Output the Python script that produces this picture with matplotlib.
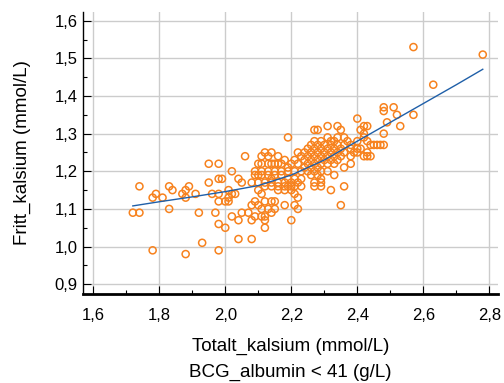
import matplotlib
matplotlib.use("Agg")
import matplotlib.pyplot as plt
from matplotlib.ticker import MultipleLocator, FuncFormatter

plt.rcParams['font.family'] = ['Liberation Sans', 'DejaVu Sans']

# Scatter data (Totalt_kalsium, Fritt_kalsium)
total_ca = [
    2.40,
    2.49,
    2.31, 2.34, 2.42, 2.43, 2.53,
    2.27, 2.28, 2.35, 2.41,
    2.42, 2.48,
    2.19, 2.31, 2.34, 2.36, 2.42,
    2.27, 2.29, 2.32, 2.33, 2.37, 2.40, 2.43,
    2.26, 2.28, 2.30, 2.32, 2.34, 2.36, 2.38, 2.44, 2.45, 2.46, 2.47, 2.48,
    2.25, 2.27, 2.29, 2.31, 2.33, 2.35, 2.38, 2.40, 2.41,
    2.12, 2.14, 2.22, 2.24, 2.26, 2.28, 2.30, 2.32, 2.34, 2.36, 2.39, 2.40, 2.43,
    2.06, 2.11, 2.13, 2.16, 2.23, 2.25, 2.27, 2.29, 2.31, 2.33, 2.35, 2.38, 2.42, 2.43, 2.44,
    2.18, 2.21, 2.24, 2.26, 2.28, 2.30, 2.32, 2.34,
    1.95, 1.98, 2.10, 2.11, 2.13, 2.14, 2.15, 2.16, 2.17, 2.20, 2.22, 2.25, 2.27, 2.29, 2.31, 2.33, 2.38,
    2.19, 2.24, 2.26, 2.28, 2.36,
    2.02, 2.09, 2.11, 2.13, 2.15, 2.17, 2.19, 2.21, 2.23, 2.25, 2.27, 2.29, 2.31,
    2.09, 2.10, 2.11, 2.13, 2.15, 2.17, 2.26, 2.28, 2.33,
    1.98, 1.99, 2.04, 2.14, 2.19, 2.21, 2.23, 2.29,
    1.95, 2.05, 2.08, 2.10, 2.12, 2.14, 2.16, 2.18, 2.20, 2.22, 2.27, 2.29,
    1.74, 1.83, 1.89, 2.12, 2.14, 2.16, 2.18, 2.19, 2.20, 2.21, 2.23, 2.27, 2.29, 2.36,
    1.84, 1.88, 2.01, 2.10, 2.16, 2.18, 2.20, 2.32,
    1.79, 1.87, 1.91, 1.96, 1.98, 2.02, 2.03, 2.11, 2.21,
    1.78, 1.81, 1.88, 2.01, 2.22,
    1.98, 2.00, 2.01, 2.09, 2.12, 2.14, 2.15,
    2.08, 2.10, 2.18, 2.21, 2.35,
    1.83, 2.11, 2.13, 2.15, 2.22,
    1.72, 1.74, 1.92, 1.97, 2.05, 2.07, 2.14,
    2.02, 2.09, 2.11, 2.12,
    2.04, 2.08, 2.12, 2.20,
    1.98,
    2.00, 2.12,
    2.04, 2.08,
    1.93,
    1.78, 1.98,
    1.88,
    2.57, 2.78, 2.63, 2.48, 2.48, 2.51, 2.52, 2.57,
]
free_ca = (
    [1.34]
    + [1.33]
    + [1.32] * 5
    + [1.31] * 4
    + [1.30] * 2
    + [1.29] * 5
    + [1.28] * 7
    + [1.27] * 12
    + [1.26] * 9
    + [1.25] * 13
    + [1.24] * 15
    + [1.23] * 8
    + [1.22] * 17
    + [1.21] * 5
    + [1.20] * 13
    + [1.19] * 9
    + [1.18] * 8
    + [1.17] * 12
    + [1.16] * 14
    + [1.15] * 8
    + [1.14] * 9
    + [1.13] * 5
    + [1.12] * 7
    + [1.11] * 5
    + [1.10] * 5
    + [1.09] * 7
    + [1.08] * 4
    + [1.07] * 4
    + [1.06]
    + [1.05] * 2
    + [1.02] * 2
    + [1.01]
    + [0.99] * 2
    + [0.98]
    + [1.53, 1.51, 1.43, 1.37, 1.36, 1.37, 1.35, 1.35]
)

# Smoothed fit curve
fit_x = [1.72, 1.80, 1.90, 2.00, 2.10, 2.20, 2.30, 2.40, 2.50, 2.60, 2.70, 2.78]
fit_y = [1.108, 1.119, 1.132, 1.146, 1.162, 1.190, 1.230, 1.280, 1.330, 1.380, 1.430, 1.471]

x_ticks = [1.6, 1.8, 2.0, 2.2, 2.4, 2.6, 2.8]
y_ticks = [0.9, 1.0, 1.1, 1.2, 1.3, 1.4, 1.5, 1.6]

fig = plt.figure(figsize=(5.04, 3.83), dpi=100)
ax = fig.add_axes([0.1653, 0.2324, 0.988 - 0.1653, 0.9695 - 0.2324])

ax.scatter(total_ca, free_ca, s=26, facecolors='none', edgecolors='#F7821E',
           linewidths=1.1, zorder=3)
ax.plot(fit_x, fit_y, color='#1F5FA8', lw=1.0, zorder=4)

ax.set_xlim(1.57, 2.826)
ax.set_ylim(0.874, 1.624)
ax.set_xticks(x_ticks)
ax.set_yticks(y_ticks)
ax.xaxis.set_minor_locator(MultipleLocator(0.1))
ax.yaxis.set_minor_locator(MultipleLocator(0.05))
fmt = FuncFormatter(lambda v, p: f"{v:.1f}".replace('.', ','))
ax.xaxis.set_major_formatter(fmt)
ax.yaxis.set_major_formatter(fmt)

ax.grid(True, which='major', color='#cccccc', lw=1.0, zorder=0)
ax.set_axisbelow(True)

for s in ['top', 'right']:
    ax.spines[s].set_visible(False)
ax.spines['bottom'].set_linewidth(2.0)
ax.spines['left'].set_linewidth(1.0)

ax.tick_params(axis='both', which='major', direction='in', length=6, width=0.8,
               labelsize=12, colors='black')
ax.tick_params(axis='both', which='minor', direction='in', length=3, width=0.8)
ax.tick_params(axis='x', which='major', pad=10)
ax.tick_params(axis='y', which='major', pad=4)

ax.set_xlabel("Totalt_kalsium (mmol/L)\nBCG_albumin < 41 (g/L)", fontsize=13.5,
              labelpad=11, linespacing=1.65)
ax.set_ylabel("Fritt_kalsium (mmol/L)", fontsize=13.5, labelpad=17)

fig.savefig("out.png", dpi=100)
